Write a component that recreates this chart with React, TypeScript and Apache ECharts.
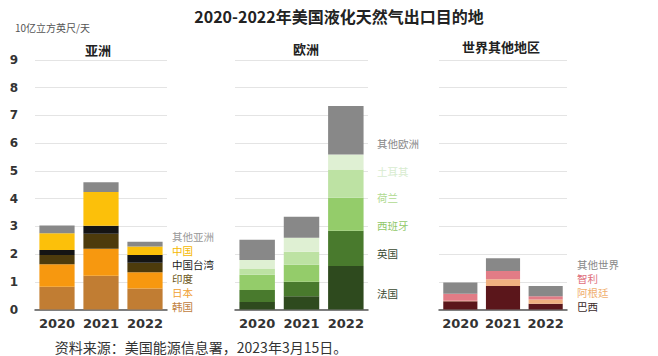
import React, { useEffect, useRef } from "react";
import * as echarts from "echarts";

const years = ["2020", "2021", "2022"];

// 亚洲 (bottom to top)
const asiaNames = ["韩国", "日本", "印度", "中国台湾", "中国", "其他亚洲"];
const asiaKorea = [0.82, 1.22, 0.76];
const asiaJapan = [0.81, 0.97, 0.58];
const asiaIndia = [0.34, 0.54, 0.35];
const asiaTaiwan = [0.18, 0.29, 0.28];
const asiaChina = [0.6, 1.22, 0.3];
const asiaOther = [0.28, 0.35, 0.17];

// 欧洲 (bottom to top)
const europeNames = ["法国", "英国", "西班牙", "荷兰", "土耳其", "其他欧洲"];
const euFrance = [0.27, 0.48, 1.57];
const euUK = [0.43, 0.52, 1.27];
const euSpain = [0.55, 0.61, 1.19];
const euNetherlands = [0.23, 0.47, 1.02];
const euTurkey = [0.31, 0.51, 0.54];
const euOther = [0.73, 0.76, 1.75];

// 世界其他地区 (bottom to top)
const rowNames = ["巴西", "阿根廷", "智利", "其他世界"];
const rowBrazil = [0.3, 0.85, 0.21];
const rowArgentina = [0.02, 0.24, 0.15];
const rowChile = [0.25, 0.3, 0.12];
const rowOther = [0.4, 0.46, 0.37];

const yTicks = [0, 1, 2, 3, 4, 5, 6, 7, 8, 9];

const titleText = "2020-2022年美国液化天然气出口目的地";
const unitText = "10亿立方英尺/天";
const panelTitles = ["亚洲", "欧洲", "世界其他地区"];
const sourceText = "资料来源：美国能源信息署，2023年3月15日。";

// styles / layout
const asiaColors = ["#c17d33", "#f7980f", "#4d3b0c", "#141414", "#fcc00a", "#888888"];
const euColors = ["#2e4a1e", "#497a2d", "#94cc6a", "#bde2a3", "#dff0d3", "#888888"];
const rowColors = ["#5b161b", "#f0b080", "#e27c86", "#888888"];

const asiaLabelColors = ["#c08040", "#f0a030", "#6b5520", "#222222", "#f5b800", "#999999"];
const euLabelColors = ["#3a4a30", "#3a4a30", "#90c868", "#b0da90", "#d8ecd0", "#888888"];
const rowLabelColors = ["#3a2a2a", "#f0b070", "#e07080", "#888888"];

const asiaLabelY = [306, 292, 278, 264, 250, 236];
const euLabelY = [293, 253, 225, 197, 171, 143];
const rowLabelY = [306, 292, 278, 264];

const grids = [
  { left: 35, width: 132 },
  { left: 235, width: 133 },
  { left: 439, width: 128 },
];
const labelX = [172, 377, 577];

const CJK = "'Noto Sans CJK SC', sans-serif";

export default function App() {
  const ref = useRef<HTMLDivElement>(null);

  useEffect(() => {
    document.body.style.margin = "0";
    if (!ref.current) return;
    const chart = echarts.init(ref.current, undefined, { renderer: "svg" });

    const groups = [
      { names: asiaNames, data: [asiaKorea, asiaJapan, asiaIndia, asiaTaiwan, asiaChina, asiaOther], colors: asiaColors, labelColors: asiaLabelColors, labelY: asiaLabelY, stack: "asia" },
      { names: europeNames, data: [euFrance, euUK, euSpain, euNetherlands, euTurkey, euOther], colors: euColors, labelColors: euLabelColors, labelY: euLabelY, stack: "europe" },
      { names: rowNames, data: [rowBrazil, rowArgentina, rowChile, rowOther], colors: rowColors, labelColors: rowLabelColors, labelY: rowLabelY, stack: "row" },
    ];

    const series: any[] = [];
    const graphics: any[] = [];
    groups.forEach((g, gi) => {
      g.names.forEach((name, i) => {
        series.push({
          type: "bar",
          name,
          stack: g.stack,
          xAxisIndex: gi,
          yAxisIndex: gi,
          data: g.data[i],
          barCategoryGap: "20%",
          itemStyle: { color: g.colors[i] },
        });
        graphics.push({
          type: "text",
          x: labelX[gi],
          y: g.labelY[i],
          style: {
            text: name,
            fill: g.labelColors[i],
            fontSize: 10.5,
            lineHeight: 12,
            fontFamily: CJK,
            align: "left",
            verticalAlign: "middle",
          },
        });
      });
    });

    const panelCenters = [98, 306, 501];
    const panelY = [49, 48, 46];
    panelTitles.forEach((t, i) => {
      graphics.push({
        type: "text",
        x: panelCenters[i],
        y: panelY[i],
        style: {
          text: t,
          fill: "#222",
          fontSize: 13,
          fontWeight: "bold",
          fontFamily: CJK,
          align: "center",
          verticalAlign: "middle",
        },
      });
    });

    graphics.push({
      type: "text",
      x: 15,
      y: 27,
      style: { text: unitText, fill: "#555", fontSize: 10, fontFamily: CJK, align: "left", verticalAlign: "middle" },
    });
    graphics.push({
      type: "text",
      x: 201,
      y: 347,
      style: { text: sourceText, fill: "#333", fontSize: 14, fontFamily: CJK, align: "center", verticalAlign: "middle" },
    });

    chart.setOption({
      animation: false,
      title: {
        text: titleText,
        left: 334,
        top: 3,
        textAlign: "center",
        textStyle: { fontSize: 16, fontWeight: "bold", color: "#222", fontFamily: CJK },
      },
      grid: grids.map((g) => ({ left: g.left, width: g.width, top: 60, height: 249.5 })),
      xAxis: grids.map((_, i) => ({
        type: "category",
        gridIndex: i,
        data: years,
        axisTick: { show: false },
        axisLine: { lineStyle: { color: "#555", width: 1.5 } },
        axisLabel: {
          interval: 0,
          margin: 7,
          color: "#333",
          fontSize: 13,
          fontWeight: "bold",
          fontFamily: "'DejaVu Sans', sans-serif",
        },
      })),
      yAxis: grids.map((_, i) => ({
        type: "value",
        gridIndex: i,
        min: yTicks[0],
        max: yTicks[yTicks.length - 1],
        interval: 1,
        axisLine: { show: false },
        axisTick: { show: false },
        splitLine: { lineStyle: { color: "#e4e4e4", width: 1 } },
        axisLabel: {
          show: i === 0,
          margin: 17,
          color: "#333",
          fontSize: 12,
          fontWeight: "bold",
          fontFamily: "'DejaVu Sans', sans-serif",
        },
      })),
      series,
      graphic: graphics,
    });

    return () => chart.dispose();
  }, []);

  return <div ref={ref} style={{ width: 658, height: 356 }} />;
}
